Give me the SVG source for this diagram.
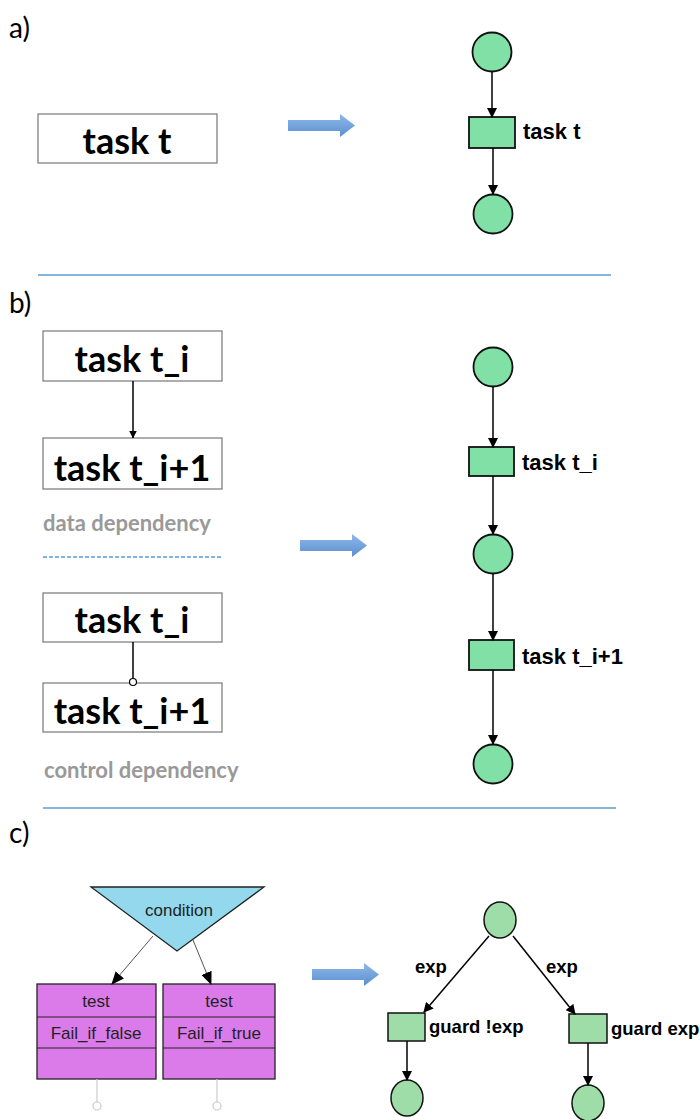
<svg xmlns="http://www.w3.org/2000/svg" width="700" height="1120" viewBox="0 0 700 1120">
<style>
.lbl{font-family:Lato,"Open Sans","Liberation Sans",sans-serif;font-size:28px;fill:#000}
.box{fill:#fff;stroke:#777;stroke-width:1.2}
.bt{font-family:Lato,"Liberation Sans",sans-serif;font-weight:bold;font-size:36px;fill:#000;text-anchor:middle}
.gray{font-family:Lato,"Liberation Sans",sans-serif;font-weight:bold;font-size:22px;fill:#999}
.sep{stroke:#5b9bd5;stroke-width:1.5}
.place{fill:#80e0a5;stroke:#111;stroke-width:1.8}
.trans{fill:#80e0a5;stroke:#111;stroke-width:1.8}
.pt{font-family:"Liberation Sans",Arial,sans-serif;font-weight:bold;font-size:22px;fill:#000}
.place2{fill:#9edca8;stroke:#111;stroke-width:1.5}
.edge{stroke:#000;stroke-width:1.5;fill:none}
.cedge{stroke:#555;stroke-width:1;fill:none}
.pur{fill:#da7be9;stroke:#222;stroke-width:1.3}
.st{font-family:"Liberation Sans",Arial,sans-serif;font-size:17px;fill:#222;text-anchor:middle}
.gt{font-family:"Liberation Sans",Arial,sans-serif;font-weight:bold;font-size:18.5px;fill:#000}
</style>
<defs>
<marker id="ah" markerWidth="10" markerHeight="10" refX="9" refY="5" orient="auto" markerUnits="userSpaceOnUse"><path d="M0,0 L10,5 L0,10 z" fill="#000"/></marker>
<marker id="ahs" markerWidth="8" markerHeight="8" refX="7.5" refY="4" orient="auto" markerUnits="userSpaceOnUse"><path d="M0,0 L8,4 L0,8 z" fill="#000"/></marker>
<marker id="ahc" markerWidth="13" markerHeight="11" refX="12" refY="5.5" orient="auto" markerUnits="userSpaceOnUse"><path d="M0,0 L13,5.5 L0,11 z" fill="#000"/></marker>
<linearGradient id="bg" x1="0" y1="0" x2="0" y2="1"><stop offset="0" stop-color="#8fb8e8"/><stop offset="1" stop-color="#5b8fd0"/></linearGradient>
<path id="barrow" d="M0,6 L52,6 L52,0 L67,11.5 L52,23 L52,17 L0,17 z"/>
</defs>

<!-- section labels -->
<text class="lbl" x="9" y="38">a)</text>
<text class="lbl" x="9" y="313">b)</text>
<text class="lbl" x="9" y="843">c)</text>

<!-- separators -->
<line class="sep" x1="38" y1="275" x2="611" y2="275"/>
<line class="sep" x1="43" y1="557" x2="222" y2="557" stroke-dasharray="4,2"/>
<line class="sep" x1="43" y1="808" x2="616" y2="808"/>

<!-- big arrows -->
<use href="#barrow" x="288" y="114" fill="url(#bg)"/>
<use href="#barrow" x="300" y="534" fill="url(#bg)"/>
<use href="#barrow" x="312" y="963" fill="url(#bg)"/>

<!-- section a left -->
<g id="a-task">
<rect class="box" x="38" y="114" width="179" height="49"/>
<text class="bt" x="127" y="154" font-size="34">task t</text>
</g>

<!-- section a petri -->
<g id="a-p1"><circle class="place" cx="492" cy="52" r="19.5"/></g>
<g id="a-t1"><rect class="trans" x="469" y="117" width="46" height="31"/><text class="pt" x="523" y="139">task t</text></g>
<g id="a-p2"><circle class="place" cx="493" cy="214" r="19.5"/></g>

<!-- section b left -->
<g id="b-d1"><rect class="box" x="43" y="331" width="179" height="50"/><text class="bt" x="132" y="372">task t_i</text></g>
<g id="b-d2"><rect class="box" x="43" y="438" width="179" height="51"/><text class="bt" x="132" y="481">task t_i+1</text></g>
<text class="gray" x="43" y="531">data dependency</text>
<g id="b-c1"><rect class="box" x="43" y="593" width="179" height="49"/><text class="bt" x="132" y="633">task t_i</text></g>
<g id="b-c2"><rect class="box" x="43" y="683" width="179" height="49"/><text class="bt" x="132" y="724">task t_i+1</text></g>
<text class="gray" x="44" y="778">control dependency</text>

<!-- section b petri -->
<g id="b-p1"><circle class="place" cx="493" cy="367" r="19.5"/></g>
<g id="b-t1"><rect class="trans" x="469" y="447" width="45" height="29"/><text class="pt" x="522" y="470">task t_i</text></g>
<g id="b-p2"><circle class="place" cx="493" cy="554" r="19.5"/></g>
<g id="b-t2"><rect class="trans" x="469" y="640" width="45" height="30"/><text class="pt" x="522" y="664">task t_i+1</text></g>
<g id="b-p3"><circle class="place" cx="493" cy="764" r="19.5"/></g>

<!-- section c left -->
<g id="c-cond">
<polygon points="91,887 264,887 177,951" fill="#94d8ee" stroke="#222" stroke-width="1.3"/>
<text class="st" x="179" y="916">condition</text>
</g>
<g id="c-test1">
<rect class="pur" x="37" y="984" width="119" height="95"/>
<line x1="37" y1="1017" x2="156" y2="1017" stroke="#222" stroke-width="1.2"/>
<line x1="37" y1="1048" x2="156" y2="1048" stroke="#222" stroke-width="1.2"/>
<text class="st" x="96" y="1007">test</text>
<text class="st" x="96" y="1039">Fail_if_false</text>
</g>
<g id="c-test2">
<rect class="pur" x="163" y="984" width="112" height="95"/>
<line x1="163" y1="1017" x2="275" y2="1017" stroke="#222" stroke-width="1.2"/>
<line x1="163" y1="1048" x2="275" y2="1048" stroke="#222" stroke-width="1.2"/>
<text class="st" x="219" y="1007">test</text>
<text class="st" x="219" y="1039">Fail_if_true</text>
</g>

<!-- section c petri -->
<g id="c-p0"><ellipse class="place2" cx="500" cy="920" rx="16" ry="18"/></g>
<text class="gt" x="415" y="973">exp</text>
<text class="gt" x="546" y="973">exp</text>
<g id="c-t1"><rect class="place2" x="388" y="1013" width="37" height="28"/><text class="gt" x="429" y="1033">guard !exp</text></g>
<g id="c-t2"><rect class="place2" x="569" y="1014" width="38" height="29"/><text class="gt" x="611" y="1035">guard exp</text></g>
<g id="c-p1"><ellipse class="place2" cx="407" cy="1098" rx="16" ry="18"/></g>
<g id="c-p2"><ellipse class="place2" cx="588" cy="1103" rx="16" ry="18"/></g>

<!-- connectors -->
<g id="connectors">
<line class="edge" x1="492" y1="72" x2="492" y2="117" marker-end="url(#ah)"/>
<line class="edge" x1="493" y1="148" x2="493" y2="194" marker-end="url(#ah)"/>
<line class="edge" x1="133" y1="381" x2="133" y2="438" marker-end="url(#ahs)"/>
<line class="edge" x1="133" y1="642" x2="133" y2="679"/>
<circle cx="133" cy="682" r="3.5" fill="#fff" stroke="#000" stroke-width="1.2"/>
<line class="edge" x1="493" y1="387" x2="493" y2="447" marker-end="url(#ah)"/>
<line class="edge" x1="493" y1="476" x2="493" y2="534" marker-end="url(#ah)"/>
<line class="edge" x1="493" y1="574" x2="493" y2="640" marker-end="url(#ah)"/>
<line class="edge" x1="493" y1="670" x2="493" y2="744" marker-end="url(#ah)"/>
<line class="cedge" x1="153" y1="936" x2="112" y2="984" marker-end="url(#ahc)"/>
<line class="cedge" x1="193" y1="940" x2="211" y2="984" marker-end="url(#ahc)"/>
<line x1="97" y1="1079" x2="97" y2="1102" stroke="#ccc" stroke-width="1.2"/>
<circle cx="97" cy="1106" r="4" fill="#fff" stroke="#ccc" stroke-width="1.2"/>
<line x1="217" y1="1079" x2="217" y2="1102" stroke="#ccc" stroke-width="1.2"/>
<circle cx="217" cy="1106" r="4" fill="#fff" stroke="#ccc" stroke-width="1.2"/>
<line class="edge" x1="489" y1="936" x2="424" y2="1012" stroke-width="1.3" marker-end="url(#ah)"/>
<line class="edge" x1="513" y1="936" x2="575" y2="1014" stroke-width="1.3" marker-end="url(#ah)"/>
<line class="edge" x1="407" y1="1041" x2="407" y2="1080" stroke-width="1.3" marker-end="url(#ah)"/>
<line class="edge" x1="588" y1="1043" x2="588" y2="1085" stroke-width="1.3" marker-end="url(#ah)"/>
</g>
</svg>
